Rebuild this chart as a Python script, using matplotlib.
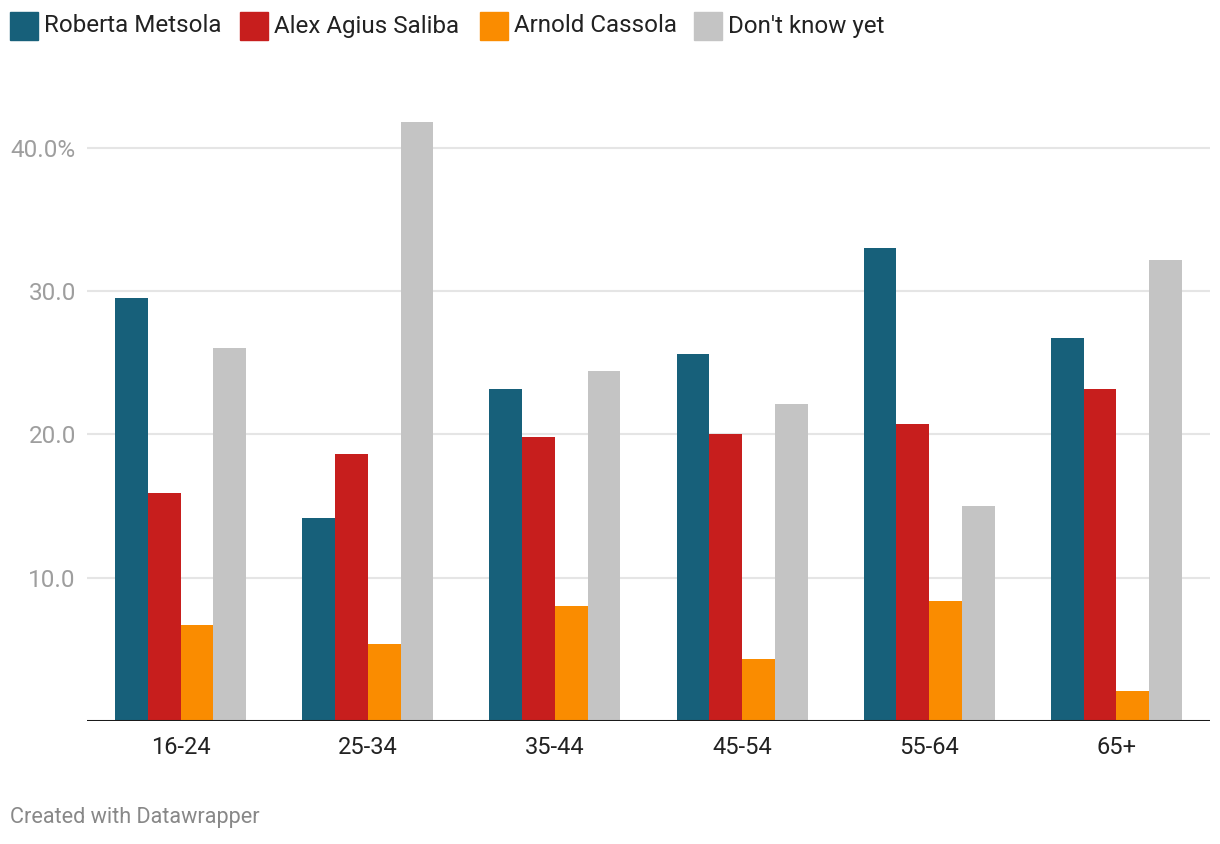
import numpy as np
import matplotlib.pyplot as plt
from matplotlib.patches import Rectangle

plt.rcParams['font.family'] = ['Roboto', 'DejaVu Sans']

# Dados
grupos = ['16-24', '25-34', '35-44', '45-54', '55-64', '65+']
metsola = [29.5, 14.2, 23.2, 25.6, 33.0, 26.7]
saliba = [15.9, 18.6, 19.8, 20.0, 20.7, 23.2]
cassola = [6.7, 5.4, 8.0, 4.3, 8.4, 2.1]
nao_sabe = [26.0, 41.8, 24.4, 22.1, 15.0, 32.2]

series = [('Roberta Metsola', metsola, '#17607a'),
          ('Alex Agius Saliba', saliba, '#c71e1d'),
          ('Arnold Cassola', cassola, '#fa8c00'),
          ("Don't know yet", nao_sabe, '#c4c4c4')]

W, H = 1220, 844
fig = plt.figure(figsize=(W / 100, H / 100), dpi=100)
ax = fig.add_axes([87 / W, (H - 721) / H, (1210 - 87) / W, (721 - 112) / H])

x = np.arange(len(grupos))
largura = 0.175
for i, (nome, vals, cor) in enumerate(series):
    ax.bar(x + (i - 1.5) * largura, vals, largura, color=cor, zorder=3, linewidth=0)

ax.set_xlim(-0.5, len(grupos) - 0.5)
ax.set_ylim(0, 42.5)
ax.set_yticks([10, 20, 30, 40])
ax.set_yticklabels(['10.0', '20.0', '30.0', '40.0%'])
ax.set_xticks(x)
ax.set_xticklabels(grupos)
ax.grid(axis='y', color='#e5e5e5', linewidth=1.5, zorder=0)
ax.axhline(0, color='#1a1a1a', linewidth=2.2, zorder=4)
for s in ax.spines.values():
    s.set_visible(False)
ax.tick_params(axis='y', length=0, pad=8, labelsize=17.5, labelcolor='#9e9e9e')
ax.tick_params(axis='x', length=0, pad=11, labelsize=17, labelcolor='#222222')

# Legenda manual
leg_x = [10, 240, 480, 694]
for (nome, vals, cor), lx in zip(series, leg_x):
    fig.patches.append(Rectangle((lx / W, (H - 40) / H), 28 / W, 28 / H,
                                 transform=fig.transFigure, color=cor))
    fig.text((lx + 34) / W, (H - 26) / H, nome, fontsize=17.4, color='#222222',
             va='center', ha='left')

fig.text(10 / W, (H - 818) / H, 'Created with Datawrapper', fontsize=15.6,
         color='#888888', va='center', ha='left')

plt.savefig('out.png', dpi=100)
